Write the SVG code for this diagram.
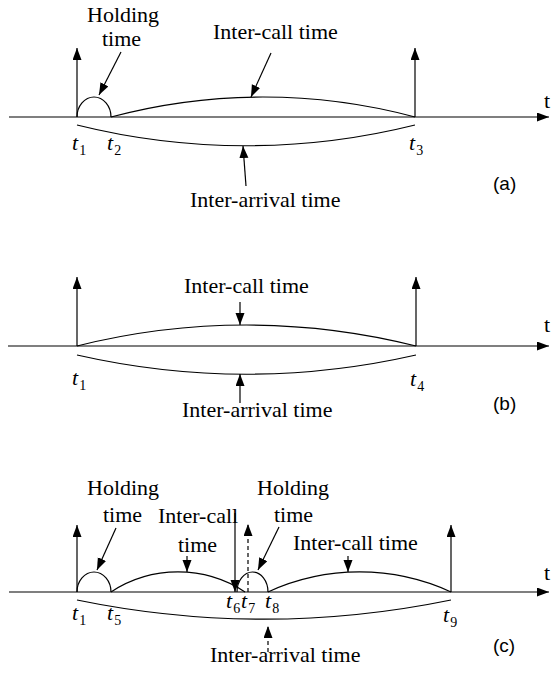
<svg xmlns="http://www.w3.org/2000/svg" width="551" height="679" viewBox="0 0 551 679">
<style>
.ln{stroke:#000;stroke-width:1.2;fill:none}
.ar{stroke:#000;stroke-width:1.2;fill:none;marker-end:url(#ah)}
.ds{stroke-dasharray:4 3}
text{fill:#000}
.ti{font-style:italic}
.sb{font-size:14px;font-style:normal}
</style>
<defs>
<marker id="ah" markerWidth="12" markerHeight="10" refX="12" refY="4.5" orient="auto" markerUnits="userSpaceOnUse">
<path d="M0,0 L12,4.5 L0,9 z" fill="#000"/>
</marker>
</defs>
<g id="connectors">
<path class="ar" d="M9,117 L549,117"/>
<path class="ar" d="M77,117 L77,48"/>
<path class="ar" d="M415,117 L415,48"/>
<path class="ln" d="M77,117 A17,20 0 0 1 111,117"/>
<path class="ln" d="M111,117 A588,588 0 0 1 415,117"/>
<path class="ln" d="M77,125 A699,699 0 0 0 415,125"/>
<path class="ar" d="M121,52 L99,95"/>
<path class="ar" d="M271,53 L251,97"/>
<path class="ar" d="M246,186 L243,146"/>
<path class="ar" d="M8,346 L549,346"/>
<path class="ar" d="M77,346 L77,277"/>
<path class="ar" d="M416,346 L416,277"/>
<path class="ln" d="M77,346 A695,695 0 0 1 416,346"/>
<path class="ln" d="M77,355 A766,766 0 0 0 416,355"/>
<path class="ar" d="M240,302 L240,325"/>
<path class="ar" d="M240,403 L240,374"/>
<path class="ar" d="M9,592 L549,592"/>
<path class="ar" d="M77,592 L77,525"/>
<path class="ar" d="M451,592 L451,525"/>
<path class="ln" d="M77,592 A17,20 0 0 1 111,592"/>
<path class="ln" d="M111,592 A122,122 0 0 1 245,592"/>
<path class="ln" d="M237,592 A15.5,20 0 0 1 268,592"/>
<path class="ln" d="M268,592 A219,219 0 0 1 451,592"/>
<path class="ln" d="M77,600 A930,930 0 0 0 451,600"/>
<path class="ar" d="M116,528 L97,570"/>
<path class="ar" d="M187,556 L187,572"/>
<path class="ar" d="M279,527 L258,570"/>
<path class="ar" d="M348,556 L348,572"/>
<path class="ar" d="M235,513 L235,592"/>
<path class="ar ds" d="M248,592 L248,524"/>
<path class="ar ds" d="M268,652 L268,626"/>
</g>
<g id="panel-a">
<text font-family="Liberation Serif, serif" font-size="22" x="87" y="22">Holding</text>
<text font-family="Liberation Serif, serif" font-size="22" x="102" y="46">time</text>
<text font-family="Liberation Serif, serif" font-size="22" x="213" y="39">Inter-call time</text>
<text font-family="Liberation Serif, serif" font-size="22" x="190" y="207">Inter-arrival time</text>
<text font-family="Liberation Serif, serif" font-size="22" x="544" y="108">t</text>
<text class="ti" font-family="Liberation Serif, serif" font-size="22" x="72" y="150">t<tspan class="sb" dx="1" dy="5">1</tspan></text>
<text class="ti" font-family="Liberation Serif, serif" font-size="22" x="107" y="150">t<tspan class="sb" dx="1" dy="5">2</tspan></text>
<text class="ti" font-family="Liberation Serif, serif" font-size="22" x="409" y="150">t<tspan class="sb" dx="1" dy="5">3</tspan></text>
<text font-family="Liberation Sans, sans-serif" font-size="19" x="493" y="190">(a)</text>
</g>
<g id="panel-b">
<text font-family="Liberation Serif, serif" font-size="22" x="184" y="293">Inter-call time</text>
<text font-family="Liberation Serif, serif" font-size="22" x="182" y="417">Inter-arrival time</text>
<text font-family="Liberation Serif, serif" font-size="22" x="544" y="332">t</text>
<text class="ti" font-family="Liberation Serif, serif" font-size="22" x="72" y="385">t<tspan class="sb" dx="1" dy="5">1</tspan></text>
<text class="ti" font-family="Liberation Serif, serif" font-size="22" x="410" y="386">t<tspan class="sb" dx="1" dy="5">4</tspan></text>
<text font-family="Liberation Sans, sans-serif" font-size="19" x="493" y="410">(b)</text>
</g>
<g id="panel-c">
<text font-family="Liberation Serif, serif" font-size="22" x="87" y="495">Holding</text>
<text font-family="Liberation Serif, serif" font-size="22" x="103" y="522">time</text>
<text font-family="Liberation Serif, serif" font-size="22" x="158" y="523">Inter-call</text>
<text font-family="Liberation Serif, serif" font-size="22" x="178" y="552">time</text>
<text font-family="Liberation Serif, serif" font-size="22" x="257" y="495">Holding</text>
<text font-family="Liberation Serif, serif" font-size="22" x="274" y="522">time</text>
<text font-family="Liberation Serif, serif" font-size="22" x="293" y="550">Inter-call time</text>
<text font-family="Liberation Serif, serif" font-size="22" x="210" y="662">Inter-arrival time</text>
<text font-family="Liberation Serif, serif" font-size="22" x="544" y="580">t</text>
<text class="ti" font-family="Liberation Serif, serif" font-size="22" x="72" y="620">t<tspan class="sb" dx="1" dy="5">1</tspan></text>
<text class="ti" font-family="Liberation Serif, serif" font-size="22" x="107" y="620">t<tspan class="sb" dx="1" dy="5">5</tspan></text>
<text class="ti" font-family="Liberation Serif, serif" font-size="22" x="226" y="608">t<tspan class="sb" dx="1" dy="5">6</tspan></text>
<text class="ti" font-family="Liberation Serif, serif" font-size="22" x="241" y="608">t<tspan class="sb" dx="1" dy="5">7</tspan></text>
<text class="ti" font-family="Liberation Serif, serif" font-size="22" x="265" y="608">t<tspan class="sb" dx="1" dy="5">8</tspan></text>
<text class="ti" font-family="Liberation Serif, serif" font-size="22" x="443" y="622">t<tspan class="sb" dx="1" dy="5">9</tspan></text>
<text font-family="Liberation Sans, sans-serif" font-size="19" x="493" y="652">(c)</text>
</g>
</svg>
